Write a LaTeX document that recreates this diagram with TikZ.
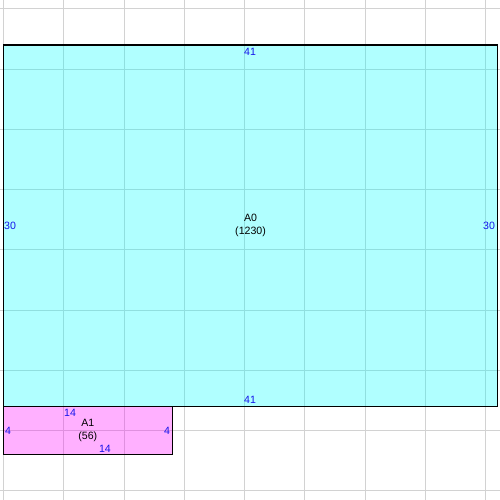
\documentclass[tikz,border=0pt]{standalone}
\usepackage{fontspec}
\setmainfont{Liberation Sans}
\definecolor{areacyan}{RGB}{0,255,255}
\definecolor{areapink}{RGB}{255,0,255}
\definecolor{sideblue}{RGB}{20,20,235}

\begin{document}
\begin{tikzpicture}[x=0.3cm, y=0.3cm, font=\fontsize{7.5}{9.2}\selectfont,
  gridline/.style={gray!35, line width=0.7pt},
  area/.style={draw, line width=0.9pt, fill opacity=0.31, text opacity=1, inner sep=0pt, align=center},
  side/.style={text=sideblue, inner sep=0pt}]
  \useasboundingbox (-0.29,-7.76) rectangle (41.2,33.73);

  % grid
  \foreach \x in {0,5,...,40}
    \draw[gridline] (\x,-7.76) -- (\x,33.73);
  \foreach \y in {-7,-2,...,33}
    \draw[gridline] (-0.29,\y) -- (41.2,\y);

  \node[area, fill=areacyan, minimum width=12.3cm, minimum height=9cm] (a0) at (20.5,15) {A0\\(1230)};
  \node[area, fill=areapink, minimum width=4.2cm, minimum height=1.2cm] (a1) at (7,-2) {A1\\(56)};

  \node[side] (a0top) at (20.46,29.42) {41};
  \node[side] (a0bot) at (20.46,0.54) {41};
  \node[side] (a0left) at (0.54,15) {30};
  \node[side] (a0right) at (40.29,15) {30};

  \node[side] (a1top) at (5.52,-0.54) {14};
  \node[side] (a1bot) at (8.42,-3.53) {14};
  \node[side] (a1left) at (0.37,-2.03) {4};
  \node[side] (a1right) at (13.57,-2.03) {4};
\end{tikzpicture}
\end{document}
